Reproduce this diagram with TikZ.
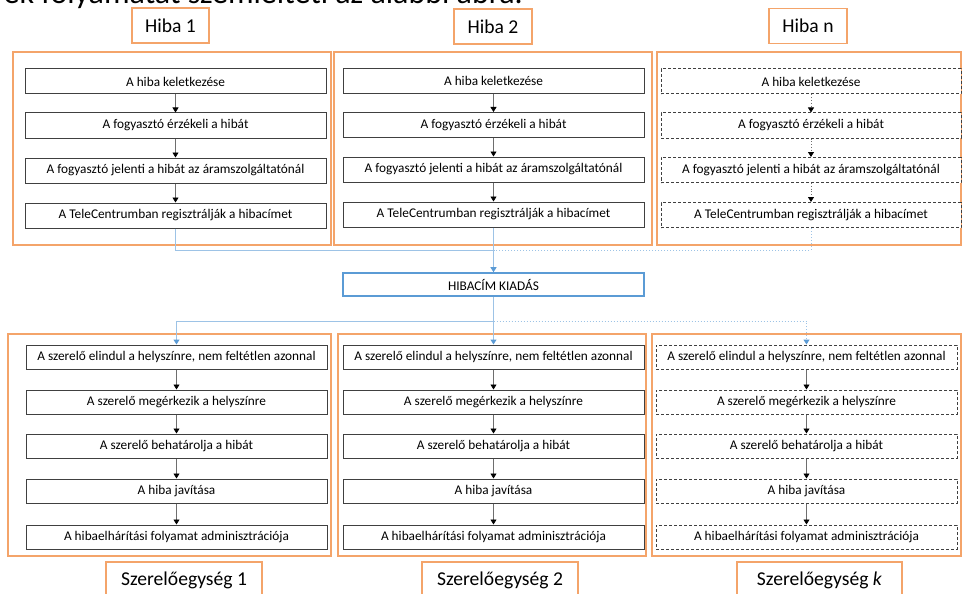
\documentclass[tikz,border=0pt]{standalone}
\usepackage{fontspec}
\setmainfont{Carlito}
\usetikzlibrary{arrows.meta}
\definecolor{org}{RGB}{244,164,106}
\definecolor{bdr}{RGB}{64,64,64}
\definecolor{lblue}{RGB}{157,195,230}
\definecolor{mblue}{RGB}{91,155,213}
\definecolor{agray}{RGB}{110,110,110}
\begin{document}
\begin{tikzpicture}[x=1pt,y=-1pt,
  panel/.style={draw=org,line width=1.2pt},
  stepbox/.style={draw=bdr,line width=1pt,fill=white,minimum width=301pt,minimum height=25pt,inner sep=0pt,font=\fontsize{13.3}{15}\selectfont},
  dstep/.style={stepbox,dash pattern=on 3pt off 2pt},
  lbl/.style={draw=org,line width=1.2pt,fill=white,inner sep=0pt,minimum height=35pt,font=\fontsize{19.6}{22}\selectfont},
  arr/.style={draw=agray,line width=0.8pt,-{Triangle[length=5pt,width=6pt,color=black]}},
  darr/.style={arr,dotted},
  bl/.style={draw=lblue,line width=1pt},
  barr/.style={bl,-{Triangle[length=5pt,width=6pt,color=mblue]}},
  hib/.style={draw=mblue,line width=1.6pt,fill=white,minimum width=301pt,minimum height=23pt,inner sep=0pt,font=\fontsize{13.3}{15}\selectfont}
]
\useasboundingbox (0,0) rectangle (962,594);
\clip (0,0) rectangle (962,594);
\fill[white] (0,0) rectangle (962,594);

% cut-off heading
\node[anchor=base east,inner sep=0pt,font=\fontsize{32}{36}\selectfont] (head) at (523,4) {ek folyamatát szemlélteti az alábbi ábra.};

% top labels
\node[lbl,minimum width=77pt] (h1) at (170.5,25.5) {Hiba 1};
\node[lbl,minimum width=78pt] (h2) at (493,26.5) {Hiba 2};
\node[lbl,minimum width=78pt] (hn) at (808,26) {Hiba n};

% top panels
\draw[panel] (13,52) rectangle (331,245);
\draw[panel] (334,52) rectangle (652,245);
\draw[panel] (657,52) rectangle (961,245);

% panel 1
\node[stepbox] (a1) at (175.5,81.5) {A hiba keletkezése};
\node[stepbox] (a2) at (175.5,125.5) {A fogyasztó érzékeli a hibát};
\node[stepbox] (a3) at (175.5,170.5) {A fogyasztó jelenti a hibát az áramszolgáltatónál};
\node[stepbox] (a4) at (175.5,215.5) {A TeleCentrumban regisztrálják a hibacímet};
% panel 2
\node[stepbox] (b1) at (493.5,81) {A hiba keletkezése};
\node[stepbox] (b2) at (493.5,125) {A fogyasztó érzékeli a hibát};
\node[stepbox] (b3) at (493.5,169.5) {A fogyasztó jelenti a hibát az áramszolgáltatónál};
\node[stepbox] (b4) at (493.5,214.5) {A TeleCentrumban regisztrálják a hibacímet};
% panel n
\node[dstep,minimum width=300pt] (c1) at (811,81.5) {A hiba keletkezése};
\node[dstep,minimum width=300pt] (c2) at (811,125.5) {A fogyasztó érzékeli a hibát};
\node[dstep,minimum width=300pt] (c3) at (811,170) {A fogyasztó jelenti a hibát az áramszolgáltatónál};
\node[dstep,minimum width=300pt] (c4) at (811,215) {A TeleCentrumban regisztrálják a hibacímet};

\draw[arr] (a1) -- (a2);
\draw[arr] (a2) -- (a3);
\draw[arr] (a3) -- (a4);
\draw[arr] (b1) -- (b2);
\draw[arr] (b2) -- (b3);
\draw[arr] (b3) -- (b4);
\draw[darr] (c1) -- (c2);
\draw[darr] (c2) -- (c3);
\draw[darr] (c3) -- (c4);

% HIBACIM
\node[hib] (hc) at (493.5,284.5) {HIBACÍM KIADÁS};
\coordinate (j1) at (493.5,250);
\coordinate (j2) at (493.5,321);
\draw[bl] (a4.south) |- (j1);
\draw[bl,dotted] (c4.south) |- (j1);
\draw[barr] (b4.south) -- (hc.north);

% bottom panels
\draw[panel] (8,334) rectangle (331,556);
\draw[panel] (338,334) rectangle (646,556);
\draw[panel] (652,334) rectangle (961,556);

\node[stepbox,minimum width=301pt,minimum height=24pt] (d1) at (176.5,357) {A szerelő elindul a helyszínre, nem feltétlen azonnal};
\node[stepbox,minimum width=301pt,minimum height=24pt] (d2) at (176.5,402) {A szerelő megérkezik a helyszínre};
\node[stepbox,minimum width=301pt,minimum height=24pt] (d3) at (176.5,446) {A szerelő behatárolja a hibát};
\node[stepbox,minimum width=301pt,minimum height=24pt] (d4) at (176.5,491) {A hiba javítása};
\node[stepbox,minimum width=301pt,minimum height=24pt] (d5) at (176.5,537) {A hibaelhárítási folyamat adminisztrációja};

\node[stepbox,minimum width=301pt,minimum height=24pt] (e1) at (493.5,357) {A szerelő elindul a helyszínre, nem feltétlen azonnal};
\node[stepbox,minimum width=301pt,minimum height=24pt] (e2) at (493.5,402) {A szerelő megérkezik a helyszínre};
\node[stepbox,minimum width=301pt,minimum height=24pt] (e3) at (493.5,446) {A szerelő behatárolja a hibát};
\node[stepbox,minimum width=301pt,minimum height=24pt] (e4) at (493.5,491) {A hiba javítása};
\node[stepbox,minimum width=301pt,minimum height=24pt] (e5) at (493.5,537) {A hibaelhárítási folyamat adminisztrációja};

\node[dstep,minimum width=301pt,minimum height=24pt] (f1) at (806.5,357) {A szerelő elindul a helyszínre, nem feltétlen azonnal};
\node[dstep,minimum width=301pt,minimum height=24pt] (f2) at (806.5,402) {A szerelő megérkezik a helyszínre};
\node[dstep,minimum width=301pt,minimum height=24pt] (f3) at (806.5,446) {A szerelő behatárolja a hibát};
\node[dstep,minimum width=301pt,minimum height=24pt] (f4) at (806.5,491) {A hiba javítása};
\node[dstep,minimum width=301pt,minimum height=24pt] (f5) at (806.5,537) {A hibaelhárítási folyamat adminisztrációja};

\foreach \p in {d,e,f}{
  \draw[arr] (\p1) -- (\p2);
  \draw[arr] (\p2) -- (\p3);
  \draw[arr] (\p3) -- (\p4);
  \draw[arr] (\p4) -- (\p5);
}

\draw[bl] (hc.south) -- (j2);
\draw[barr] (j2) -| (d1.north);
\draw[barr] (j2) -- (e1.north);
\draw[barr,dotted] (j2) -| (f1.north);

% bottom labels
\node[lbl,minimum width=156pt,minimum height=36pt] (s1) at (184,580) {Szerelőegység 1};
\node[lbl,minimum width=156pt,minimum height=36pt] (s2) at (500,580) {Szerelőegység 2};
\node[lbl,minimum width=165pt,minimum height=36pt] (sk) at (819.5,580) {Szerelőegység \textit{k}};
\end{tikzpicture}
\end{document}
